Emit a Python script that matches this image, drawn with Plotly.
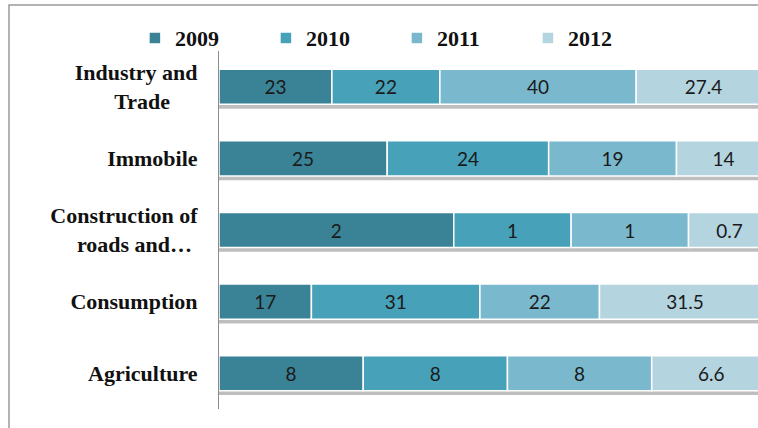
import plotly.graph_objects as go

categories = ["Industry and<br>Trade" + "\u00a0" * 5, "Immobile", "Construction of<br>roads and\u2026\u00a0", "Consumption", "Agriculture"]
years = ["2009", "2010", "2011", "2012"]
v2009 = [23, 25, 2, 17, 8]
v2010 = [22, 24, 1, 31, 8]
v2011 = [40, 19, 1, 22, 8]
v2012 = [27.4, 14, 0.7, 31.5, 6.6]
colors = ["#3a8396", "#47a1b9", "#7ab8cd", "#b4d4df"]

series = [v2009, v2010, v2011, v2012]
totals = [sum(s[i] for s in series) for i in range(len(categories))]

fig = go.Figure()

# drop shadow beneath each bar
fig.add_trace(go.Bar(
    y=categories, x=[1] * len(categories), base=[0] * len(categories), orientation="h",
    width=0.49, offset=-0.245 + 0.06,
    marker=dict(color="rgba(110,110,110,0.45)", line=dict(width=0)),
    showlegend=False, hoverinfo="skip",
))

bases = [0.0] * len(categories)
for name, vals, col in zip(years, series, colors):
    pct = [v / t for v, t in zip(vals, totals)]
    fig.add_trace(go.Bar(
        y=categories, x=pct, base=list(bases), orientation="h", name=name,
        width=0.49, offset=-0.245,
        marker=dict(color=col, line=dict(color="white", width=1.5)),
        text=[("%g" % v) for v in vals], textposition="inside", insidetextanchor="middle",
        textangle=0, constraintext="none",
        textfont=dict(family="Lato, sans-serif", size=19, color="#1a1a1a"),
        hoverinfo="skip",
    ))
    bases = [b + p for b, p in zip(bases, pct)]

fig.update_layout(
    width=758, height=428,
    barmode="overlay",
    paper_bgcolor="white", plot_bgcolor="white",
    margin=dict(l=219, r=0, t=51, b=19, autoexpand=False),
    showlegend=True,
    legend=dict(
        orientation="h", xref="container", yref="container",
        x=0.178, y=0.911, xanchor="left", yanchor="middle",
        font=dict(family="Liberation Serif, serif", size=22, color="#111", weight="bold"),
        entrywidth=86, entrywidthmode="pixels", traceorder="normal",
        bgcolor="rgba(0,0,0,0)",
    ),
    xaxis=dict(range=[0, 0.977], showticklabels=False, showgrid=False, zeroline=False,
               showline=False, fixedrange=True),
    yaxis=dict(range=[4.5, -0.5], showgrid=False, zeroline=False,
               showline=True, linecolor="#8c8c8c", linewidth=1,
               ticks="", ticklabelstandoff=16, fixedrange=True,
               tickfont=dict(family="Liberation Serif, serif", size=22, color="#111", weight="bold")),
    shapes=[dict(type="rect", xref="paper", yref="paper",
                 x0=(9 - 219) / 539, x1=1.2, y0=-0.2, y1=(428 - 19 - 5) / 358,
                 line=dict(color="#9a9a9a", width=1.5), fillcolor="rgba(0,0,0,0)", layer="below")],
)

fig.write_html("out.html", config={"displayModeBar": False},
               post_script="document.body.style.margin='0';document.body.style.overflow='hidden';")
